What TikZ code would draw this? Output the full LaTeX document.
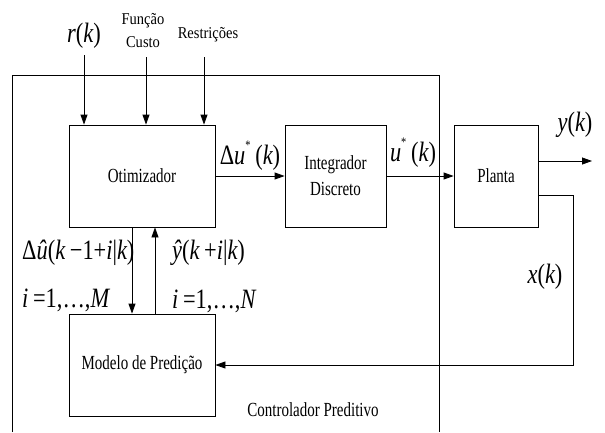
\documentclass[tikz,border=0pt]{standalone}
\usepackage{fontspec}
\setmainfont{Liberation Serif}[FakeStretch=0.75]
\newfontfamily\topfont{Liberation Serif}[FakeStretch=0.88]
\newfontfamily\mfont{Liberation Serif}[FakeStretch=0.8]
\usetikzlibrary{arrows.meta}
\newcommand{\vi}[1]{{\itshape #1}}
\newcommand{\starsup}{\raisebox{0.55em}{\fontsize{13}{13}\selectfont *}}
\begin{document}
\begin{tikzpicture}[x=1pt,y=-1pt,
  blk/.style={draw, line width=0.8pt, inner sep=0pt, align=center,
    font=\fontsize{20}{26}\selectfont},
  ml/.style={font=\mfont\fontsize{28}{30}\selectfont, inner sep=0pt},
  tl/.style={font=\topfont\fontsize{16.5}{23}\selectfont, inner sep=0pt, align=center},
  bl/.style={font=\fontsize{20}{24}\selectfont, inner sep=0pt},
  arr/.style={line width=0.8pt, -{Triangle[length=10pt,width=7pt]}},
  ln/.style={line width=0.8pt}]
\useasboundingbox (0,0) rectangle (605,432);
% outer frame
\draw[ln] (12,432) -- (12,75) -- (439,75) -- (439,432);
% blocks
\node[blk, minimum width=146pt, minimum height=102pt] (otim) at (142,176) {Otimizador};
\node[blk, minimum width=101pt, minimum height=102pt] (integ) at (335.5,176) {Integrador\\Discreto};
\node[blk, minimum width=84pt, minimum height=102pt] (planta) at (496,176) {Planta};
\node[blk, minimum width=146pt, minimum height=102pt] (modelo) at (142,365) {Modelo de Predição};
% top inputs
\coordinate (rin) at (84,55);
\coordinate (fin) at (146,57);
\coordinate (rsin) at (204,57);
\draw[arr] (rin) -- (otim.north -| rin);
\draw[arr] (fin) -- (otim.north -| fin);
\draw[arr] (rsin) -- (otim.north -| rsin);
\node[ml] (rk) at (84,36) {\vi{r}(\vi{k})};
\node[tl] (fc) at (143,31) {Função\\Custo};
\node[tl] (rs) at (208,35) {Restrições};
% forward path
\draw[arr] (otim.east) -- (integ.west);
\draw[arr] (integ.east) -- (planta.west);
\node[ml] (du) at (250,156) {Δ\vi{u}\starsup\,(\vi{k})};
\node[ml] (us) at (413,153) {\vi{u}\starsup\,(\vi{k})};
% output
\coordinate (yend) at (592,161);
\draw[arr] (planta.east |- yend) -- (yend);
\node[ml] (yk) at (575,125) {\vi{y}(\vi{k})};
% state feedback
\coordinate (xa) at (573,195);
\coordinate (xb) at (573,365);
\draw[arr] (planta.east |- xa) -- (xa) -- (xb) -- (modelo.east);
\node[ml] (xk) at (545,277) {\vi{x}(\vi{k})};
% between optimizer and model
\coordinate (dn) at (132,0);
\coordinate (up) at (155,0);
\draw[arr] (otim.south -| dn) -- (modelo.north -| dn);
\draw[arr] (modelo.north -| up) -- (otim.south -| up);
\node[ml, anchor=west] (duh) at (22,253) {Δ\vi{û}(\vi{k}\,−1+\vi{i}|\vi{k})};
\node[ml, anchor=west] (im) at (22,300) {\vi{i}\,=1,…,\vi{M}};
\node[ml, anchor=west] (yh) at (172,253) {\vi{ŷ}(\vi{k}\,+\vi{i}|\vi{k})};
\node[ml, anchor=west] (in) at (172,301) {\vi{i}\,=1,…,\vi{N}};
\node[bl] (cp) at (313,410) {Controlador Preditivo};
\end{tikzpicture}
\end{document}
